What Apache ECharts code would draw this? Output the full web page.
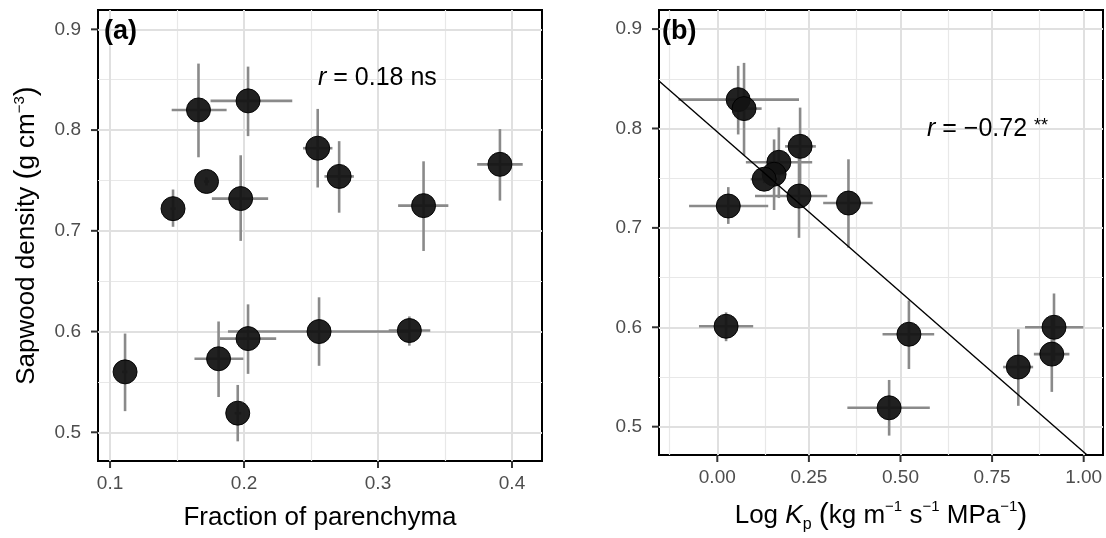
<!DOCTYPE html>
<html>
<head>
<meta charset="utf-8">
<script src="https://cdn.jsdelivr.net/npm/echarts@6/dist/echarts.min.js"></script>
<style>
html,body{margin:0;padding:0;background:#fff;}
#chart{width:1106px;height:538px;}
</style>
</head>
<body>
<div id="chart"></div>
<script>
// ---- data ----
const density      = [0.829,0.820,0.782,0.766,0.754,0.749,0.732,0.722,0.725,0.601,0.593,0.519,0.560,0.600,0.573];
const densityLow   = [0.794,0.773,0.743,0.730,0.718,0.745,0.690,0.704,0.680,0.586,0.558,0.491,0.521,0.566,0.535];
const densityHigh  = [0.863,0.866,0.821,0.801,0.789,0.753,0.775,0.741,0.769,0.615,0.627,0.547,0.598,0.634,0.610];
const parenchyma     = [0.203,0.166,0.255,0.391,0.271,0.172,0.1975,0.147,0.334,0.3234,0.203,0.1953,0.1112,0.256,0.181];
const parenchymaLow  = [0.175,0.146,0.244,0.374,0.260,0.170,0.176,0.145,0.315,0.308,0.182,0.193,0.109,0.188,0.163];
const parenchymaHigh = [0.236,0.187,0.266,0.408,0.282,0.174,0.218,0.149,0.3525,0.339,0.224,0.198,0.113,0.324,0.1995];
const logKp     = [0.057,0.073,0.226,0.168,0.155,0.128,0.223,0.030,0.358,0.024,0.523,0.469,0.8215,0.919,0.913];
const logKpLow  = [-0.106,0.051,0.185,0.078,0.125,0.091,0.103,-0.077,0.289,-0.050,0.451,0.355,0.780,0.840,0.864];
const logKpHigh = [0.223,0.121,0.269,0.259,0.185,0.165,0.300,0.139,0.424,0.098,0.592,0.580,0.862,0.999,0.961];

const fitIntercept = 0.7965;
const fitSlope = -0.322;

const xTicksA = [0.1, 0.2, 0.3, 0.4];
const xMinorA = [0.15, 0.25, 0.35];
const xTicksB = [0.00, 0.25, 0.50, 0.75, 1.00];
const xMinorB = [-0.125, 0.125, 0.375, 0.625, 0.875];
const yTicks = [0.5, 0.6, 0.7, 0.8, 0.9];
const yMinor = [0.55, 0.65, 0.75, 0.85];

const xRangeA = [0.0910, 0.4224];
const xRangeB = [-0.1591, 1.0527];
const yRange = [0.4715, 0.9192];

// ---- styling ----
const FONT = "'Liberation Sans', Arial, Helvetica, sans-serif";
const GRID_MAJOR = {color:'#e0e0e0', width:2, type:'solid'};
const GRID_MINOR = {color:'#e8e8e8', width:1.2, type:'solid'};
const TICK_LEN = 7;
const TICK_COLOR = '#333';

function gridLines(xMaj, xMin, yMaj, yMin){
  const d = [];
  xMin.forEach(v=>d.push({xAxis:v, lineStyle:GRID_MINOR}));
  yMin.forEach(v=>d.push({yAxis:v, lineStyle:GRID_MINOR}));
  xMaj.forEach(v=>d.push({xAxis:v, lineStyle:GRID_MAJOR}));
  yMaj.forEach(v=>d.push({yAxis:v, lineStyle:GRID_MAJOR}));
  return d;
}

function pts(xs){ return xs.map((x,i)=>[x, density[i]]); }
function errData(xs, lo, hi){ return xs.map((x,i)=>[x, density[i], lo[i], hi[i], densityLow[i], densityHigh[i]]); }

function renderErr(params, api){
  const x = api.value(0), y = api.value(1);
  const p1 = api.coord([api.value(2), y]), p2 = api.coord([api.value(3), y]);
  const p3 = api.coord([x, api.value(4)]), p4 = api.coord([x, api.value(5)]);
  const st = {stroke:'#8a8a8a', lineWidth:2.6};
  return {type:'group', children:[
    {type:'line', shape:{x1:p1[0],y1:p1[1],x2:p2[0],y2:p2[1]}, style:st},
    {type:'line', shape:{x1:p3[0],y1:p3[1],x2:p4[0],y2:p4[1]}, style:st}
  ]};
}

const axisLineStyle = {show:true, onZero:false, lineStyle:{color:'#000', width:2}};
const nameRich = {
  t:{fontSize:26, fontFamily:FONT, color:'#000'},
  i:{fontSize:26, fontFamily:FONT, color:'#000', fontStyle:'italic'},
  sub:{fontSize:16, fontFamily:FONT, color:'#000', verticalAlign:'bottom', lineHeight:34},
  sup:{fontSize:15, fontFamily:FONT, color:'#000', verticalAlign:'top'},
  p:{fontSize:30, fontFamily:FONT, color:'#000'}
};
// tick labels carry the outward tick mark as a small filled rich-text box
const xLabelRich = {
  tk:{width:2, height:TICK_LEN, lineHeight:TICK_LEN, backgroundColor:TICK_COLOR, fontSize:1},
  v:{fontSize:19, lineHeight:32, fontFamily:FONT, color:'#4d4d4d'}
};
const yLabelRich = {
  v:{fontSize:19, fontFamily:FONT, color:'#4d4d4d'},
  sp:{width:10, fontSize:1},
  tk:{width:TICK_LEN, height:2, backgroundColor:TICK_COLOR, fontSize:1}
};
function xAxisCfg(idx, range, ticks, name){
  return {
    type:'value', gridIndex:idx, min:range[0], max:range[1],
    axisLine:axisLineStyle,
    axisTick:{show:false},
    axisLabel:{customValues:ticks, margin:0, rich:xLabelRich,
      formatter:(v)=> '{tk|}\n{v|' + (idx===0 ? String(Math.round(v*10)/10) : v.toFixed(2)) + '}'},
    splitLine:{show:false},
    name:name, nameLocation:'middle', nameGap:44,
    nameTextStyle:{color:'#000', fontSize:26, fontFamily:FONT, rich:nameRich}
  };
}
function yAxisCfg(idx, name){
  return {
    type:'value', gridIndex:idx, min:yRange[0], max:yRange[1],
    axisLine:axisLineStyle,
    axisTick:{show:false},
    axisLabel:{customValues:yTicks, margin:0, rich:yLabelRich,
      formatter:(v)=>'{v|' + String(Math.round(v*10)/10) + '}{sp|}{tk|}'},
    splitLine:{show:false},
    name:name, nameLocation:'middle', nameGap:56, nameRotate:90,
    nameTextStyle:{color:'#000', fontSize:26, fontFamily:FONT, rich:nameRich}
  };
}

const fitStart = xRangeB[0];
const fitEnd = (yRange[0] - fitIntercept) / fitSlope;
const fitData = [[fitStart, fitIntercept + fitSlope*fitStart], [fitEnd, fitIntercept + fitSlope*fitEnd]];

const pointStyle = {color:'#131313', borderColor:'#000', borderWidth:1, opacity:0.94};

const textGraphics = [
  {type:'text', left:104, top:18, z:20, style:{text:'(a)', font:'bold 27px '+FONT, fill:'#000'}},
  {type:'text', left:662, top:18, z:20, style:{text:'(b)', font:'bold 27px '+FONT, fill:'#000'}},
  {type:'text', left:318, top:66, z:20, style:{text:'{i|r}{t| = 0.18 ns}', fill:'#000',
    rich:{i:{fontStyle:'italic', fontSize:25, fontFamily:FONT, fill:'#000'}, t:{fontSize:25, fontFamily:FONT, fill:'#000'}}}},
  {type:'text', left:927, top:117, z:20, style:{text:'{i|r}{t| = −0.72 }{s|**}', fill:'#000',
    rich:{i:{fontStyle:'italic', fontSize:25, fontFamily:FONT, fill:'#000'}, t:{fontSize:25, fontFamily:FONT, fill:'#000'},
          s:{fontSize:18, fontFamily:FONT, fill:'#000', verticalAlign:'top'}}}}
];

const option = {
  animation:false,
  grid:[
    {left:98, top:10, width:444, height:451, show:true, borderColor:'#000', borderWidth:2},
    {left:659, top:10, width:444, height:451, show:true, borderColor:'#000', borderWidth:2}
  ],
  xAxis:[
    xAxisCfg(0, xRangeA, xTicksA, 'Fraction of parenchyma'),
    xAxisCfg(1, xRangeB, xTicksB, '{t|Log }{i|K}{sub|p}{t| }{p|(}{t|kg m}{sup|−1}{t| s}{sup|−1}{t| MPa}{sup|−1}{p|)}')
  ],
  yAxis:[
    yAxisCfg(0, '{t|Sapwood density }{p|(}{t|g cm}{sup|−3}{p|)}'),
    yAxisCfg(1, '')
  ],
  series:[
    {type:'line', xAxisIndex:0, yAxisIndex:0, data:pts(parenchyma), symbol:'none', silent:true, z:1,
      lineStyle:{opacity:0},
      markLine:{silent:true, symbol:['none','none'], label:{show:false}, animation:false, z:1,
        data:gridLines(xTicksA, xMinorA, yTicks, yMinor)}},
    {type:'line', xAxisIndex:1, yAxisIndex:1, data:pts(logKp), symbol:'none', silent:true, z:1,
      lineStyle:{opacity:0},
      markLine:{silent:true, symbol:['none','none'], label:{show:false}, animation:false, z:1,
        data:gridLines(xTicksB, xMinorB, yTicks, yMinor)}},
    {type:'custom', xAxisIndex:0, yAxisIndex:0, data:errData(parenchyma, parenchymaLow, parenchymaHigh), renderItem:renderErr, z:2, silent:true},
    {type:'custom', xAxisIndex:1, yAxisIndex:1, data:errData(logKp, logKpLow, logKpHigh), renderItem:renderErr, z:2, silent:true},
    {type:'scatter', xAxisIndex:0, yAxisIndex:0, data:pts(parenchyma), symbolSize:24, itemStyle:pointStyle, z:3, clip:false},
    {type:'scatter', xAxisIndex:1, yAxisIndex:1, data:pts(logKp), symbolSize:24, itemStyle:pointStyle, z:3, clip:false},
    {type:'line', xAxisIndex:1, yAxisIndex:1, data:fitData, symbol:'none', z:4, clip:true,
      lineStyle:{color:'#000', width:1.4}}
  ],
  graphic:textGraphics
};

const chart = echarts.init(document.getElementById('chart'), null, {renderer:'canvas'});
chart.setOption(option);
</script>
</body>
</html>
